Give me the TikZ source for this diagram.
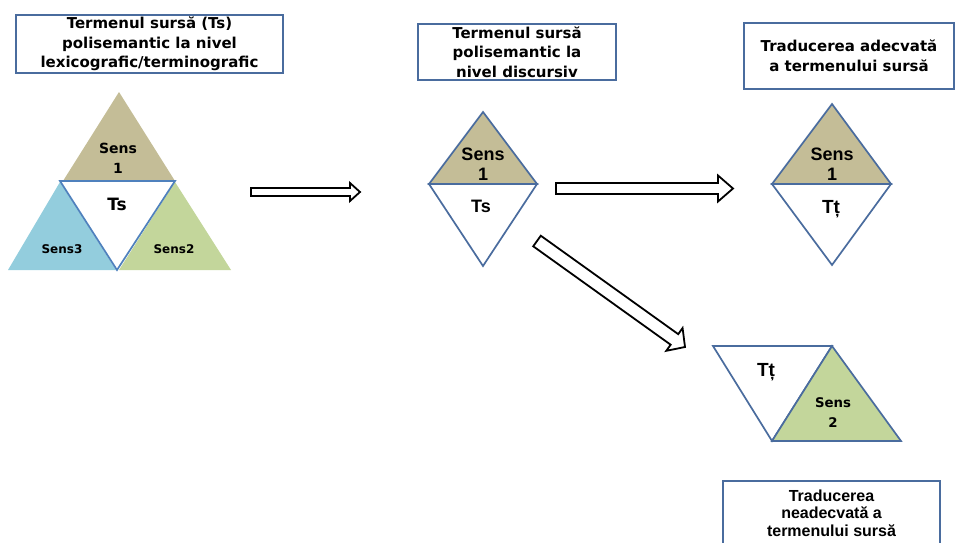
\documentclass[tikz,border=0pt]{standalone}
\usepackage{fontspec}
\setmainfont{DejaVu Sans}
\newfontfamily\arialfont{Liberation Sans}
\usetikzlibrary{calc}
\definecolor{edgeblue}{RGB}{74,108,158}
\definecolor{lightedge}{RGB}{79,129,189}
\definecolor{senstan}{RGB}{196,189,151}
\definecolor{sensblue}{RGB}{147,205,221}
\definecolor{sensgreen}{RGB}{195,214,155}

% hollow block arrow: tail, tip, half shaft, half head, head length
\newcommand{\hollowarrow}[5]{%
  \coordinate (#1-n) at ($(#2)!#5!(#1)$);
  \draw[blockarr] ($(#1)!#3!90:(#2)$) -- ($(#1-n)!#3!90:(#2)$) -- ($(#1-n)!#4!90:(#2)$)
    -- (#2) -- ($(#1-n)!#4!-90:(#2)$) -- ($(#1-n)!#3!-90:(#2)$) -- ($(#1)!#3!-90:(#2)$) -- cycle;
}

\begin{document}
\begin{tikzpicture}[
  x=1pt, y=-1pt,
  box/.style={draw=edgeblue, line width=1.9pt, align=center, inner sep=0pt,
    font=\bfseries\fontsize{15}{19.5}\selectfont},
  tri/.style={draw=edgeblue, line width=1.7pt, line join=miter},
  blockarr/.style={draw=black, fill=white, line width=1.8pt, line join=miter},
  lab/.style={align=center, inner sep=0pt},
  sans/.style={lab, font=\bfseries\fontsize{#1}{20}\selectfont},
  arial/.style={lab, font=\arialfont\bfseries\fontsize{#1}{20}\selectfont}
]
\useasboundingbox (0,0) rectangle (955,543);

% ===== TITLE BOXES =====
\node[box, minimum width=267pt, minimum height=58pt] (src_box) at (149.5,44)
  {Termenul sursă (Ts)\\polisemantic la nivel\\lexicografic/terminografic};
\node[box, minimum width=198pt, minimum height=56pt] (disc_box) at (517,52)
  {Termenul sursă\\polisemantic la\\nivel discursiv};
\node[box, minimum width=210pt, minimum height=66pt] (ok_box) at (849,56)
  {Traducerea adecvată\\a termenului sursă};
\node[box, minimum width=217pt, minimum height=64pt,
  font=\arialfont\bfseries\fontsize{16}{17.5}\selectfont] (bad_box) at (831.5,513)
  {Traducerea\\neadecvată a\\termenului sursă};

% ===== SOURCE TERM (lexicographic) =====
\fill[sensblue] (60,182) -- (8,270) -- (116,270) -- cycle;
\fill[sensgreen] (175,182) -- (119,270) -- (231,270) -- cycle;
\fill[senstan] (119,92) -- (63,181) -- (175,181) -- cycle;
\draw[tri, draw=lightedge, fill=white] (60,181) -- (175,181) -- (117,270) -- cycle;
\node[sans=14] (src_s1) at (118,158) {Sens\\1};
\node[sans=17] (src_ts) at (117,204) {Ts};
\node[sans=12] (src_s3) at (62,249) {Sens3};
\node[sans=12] (src_s2) at (174,249) {Sens2};

% ===== SOURCE TERM (discourse) =====
\draw[tri, fill=senstan] (429,184) -- (483,112) -- (537,184) -- cycle;
\draw[tri, fill=white] (429,184) -- (483,266) -- (537,184) -- cycle;
\node[arial=18] (disc_s1) at (483,164) {Sens\\1};
\node[arial=18] (disc_ts) at (481,206) {Ts};

% ===== ADEQUATE TRANSLATION =====
\draw[tri, fill=senstan] (772,184) -- (832,104) -- (891,184) -- cycle;
\draw[tri, fill=white] (772,184) -- (832,265) -- (891,184) -- cycle;
\node[arial=18] (ok_s1) at (832,164) {Sens\\1};
\node[arial=19] (ok_tt) at (831,209) {Tț};

% ===== INADEQUATE TRANSLATION =====
\draw[tri, fill=white] (713,346) -- (832,346) -- (772,441) -- cycle;
\draw[tri, fill=sensgreen] (832,346) -- (772,441) -- (901,441) -- cycle;
\node[arial=19] (bad_tt) at (766,372) {Tț};
\node[sans=13.3] (bad_s2) at (833,413) {Sens\\2};

% ===== BLOCK ARROWS =====
\coordinate (a1_tail) at (251,192);
\coordinate (a1_tip) at (360,192);
\coordinate (a2_tail) at (556,188.5);
\coordinate (a2_tip) at (733,188.5);
\coordinate (a3_tail) at (537,241);
\coordinate (a3_tip) at (685,347);
\hollowarrow{a1_tail}{a1_tip}{4pt}{9pt}{10pt}
\hollowarrow{a2_tail}{a2_tip}{5.5pt}{13pt}{15pt}
\hollowarrow{a3_tail}{a3_tip}{6.5pt}{14pt}{13pt}

\end{tikzpicture}
\end{document}
